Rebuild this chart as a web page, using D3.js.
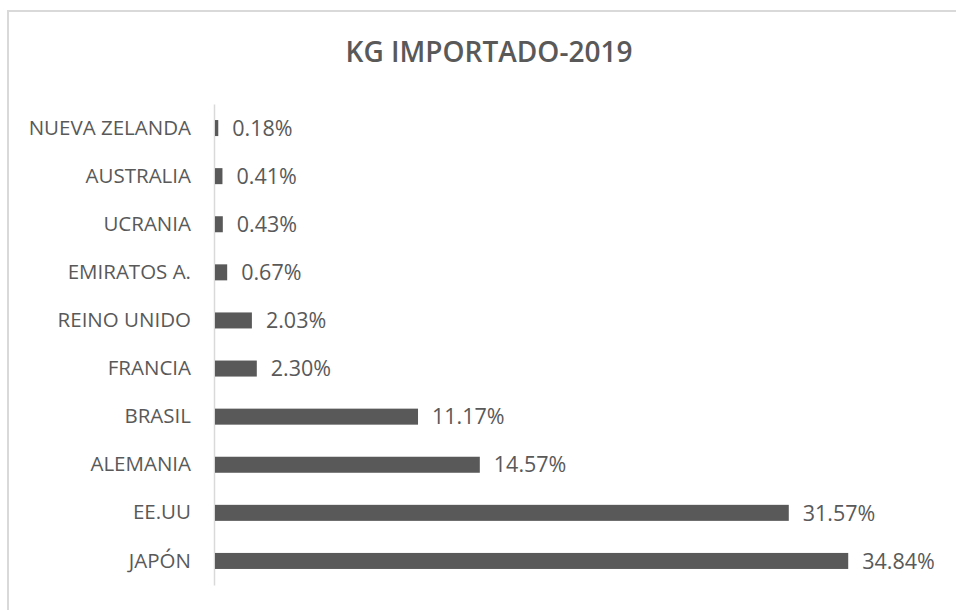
<!DOCTYPE html>
<html>
<head>
  <meta charset="utf-8">
  <script src="https://d3js.org/d3.v7.min.js"></script>
  <style>
    body { margin: 0; background: #fff; }
    text { font-family: "Open Sans", sans-serif; fill: #595959; }
  </style>
</head>
<body>
  <script>
    // data, top to bottom as in the chart
    var paises = ["NUEVA ZELANDA", "AUSTRALIA", "UCRANIA", "EMIRATOS A.", "REINO UNIDO",
                  "FRANCIA", "BRASIL", "ALEMANIA", "EE.UU", "JAPÓN"];
    var porcentajes = [0.18, 0.41, 0.43, 0.67, 2.03, 2.30, 11.17, 14.57, 31.57, 34.84];
    var etiquetas = ["0.18%", "0.41%", "0.43%", "0.67%", "2.03%", "2.30%", "11.17%", "14.57%", "31.57%", "34.84%"];

    var width = 956, height = 610;

    var svg = d3.select("body").append("svg")
        .attr("width", width)
        .attr("height", height);

    // chart border (runs off to the right and bottom)
    svg.append("rect")
        .attr("x", 8).attr("y", 11)
        .attr("width", 1000).attr("height", 700)
        .attr("fill", "#fff")
        .attr("stroke", "#d9d9d9")
        .attr("stroke-width", 2);

    svg.append("text")
        .attr("x", 489)
        .attr("y", 62)
        .attr("text-anchor", "middle")
        .style("font-size", "28px")
        .style("font-weight", 600)
        .text("KG IMPORTADO-2019");

    var x = d3.scaleLinear().domain([0, 40]).range([214, 941]);
    var y = d3.scaleBand().domain(paises).range([104, 585])
        .paddingInner(0.667).paddingOuter(0.3335);

    var eje = svg.append("g")
        .attr("transform", "translate(" + x(0) + ",0)")
        .call(d3.axisLeft(y).tickSize(0).tickSizeOuter(0).tickPadding(23));
    eje.select(".domain").attr("stroke", "#d9d9d9").attr("stroke-width", 1.5);
    eje.selectAll("text")
        .style("font-family", "'Open Sans', sans-serif")
        .style("font-size", "20.5px")
        .attr("fill", "#595959");

    var datos = paises.map(function(p, i) {
      return { pais: p, valor: porcentajes[i], etiqueta: etiquetas[i] };
    });

    svg.selectAll("rect.barra")
        .data(datos)
      .enter().append("rect")
        .attr("class", "barra")
        .attr("x", x(0) + 1)
        .attr("y", function(d) { return y(d.pais); })
        .attr("width", function(d) { return x(d.valor) - x(0); })
        .attr("height", y.bandwidth())
        .attr("fill", "#595959");

    svg.selectAll("text.valor")
        .data(datos)
      .enter().append("text")
        .attr("class", "valor")
        .attr("x", function(d) { return x(d.valor) + 15; })
        .attr("y", function(d) { return y(d.pais) + y.bandwidth() / 2; })
        .attr("dy", "0.36em")
        .style("font-size", "21.5px")
        .text(function(d) { return d.etiqueta; });
  </script>
</body>
</html>
